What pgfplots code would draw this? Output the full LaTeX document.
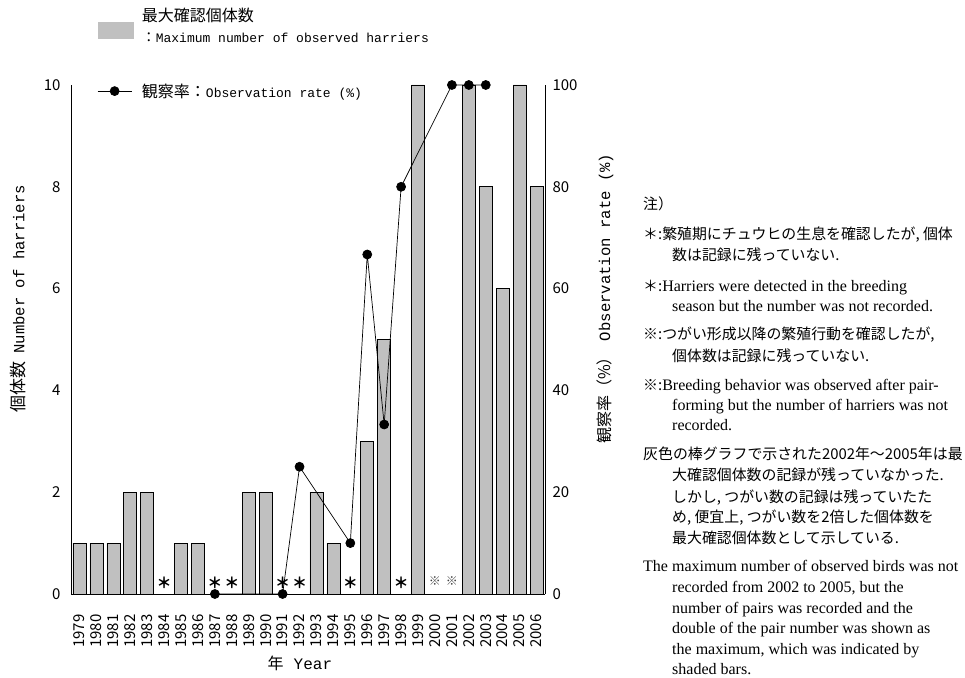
\documentclass[border=0pt]{standalone}
\usepackage{fontspec}
\usepackage{pgfplots}
\pgfplotsset{compat=1.18}
\setmainfont{Liberation Serif}
\newfontfamily\jp{Noto Sans CJK JP}
\newfontfamily\mono{Liberation Mono}
\definecolor{barfill}{RGB}{192,192,192}
\newcommand{\fs}[1]{\fontsize{#1}{#1}\selectfont}
\pgfplotsset{
  mylineleg/.style={legend image code/.code={\draw[##1, mark repeat=2, mark phase=2] plot coordinates {(0pt,0pt) (17pt,0pt) (34pt,0pt)};}},
  mybarleg/.style={legend image code/.code={\path (0pt,11.5pt) (0pt,-11.5pt); \fill[barfill] (0pt,-11.5pt) rectangle (35pt,4.5pt);}},
}

\begin{document}
\begin{tikzpicture}[x=1pt,y=1pt]
\path[use as bounding box] (0,0) rectangle (965,677);

\begin{axis}[
  at={(71pt,83pt)}, anchor=south west,
  scale only axis, width=474pt, height=509pt,
  xmin=1978.5, xmax=2006.5, ymin=0, ymax=10,
  axis x line*=bottom, axis y line*=left,
  axis line style={black, line width=0.7pt},
  xtick={1979,...,2006}, ytick={0,2,...,10},
  major tick length=0pt,
  /pgf/number format/1000 sep={},
  /pgf/number format/assume math mode=true,
  tick label style={font=\jp\fs{15}},
  x tick label style={rotate=90, anchor=east},
  xticklabel shift=17pt,
  yticklabel shift=7pt,
  clip=false,
  xlabel={{\jp\fs{16}年}\hspace{1em}{\mono\fs{16}Year}},
  xlabel style={at={(axis description cs:0.483,-0.136)}, anchor=center},
  ylabel={{\jp\fs{17}個体数}\hspace{0.8em}{\mono\fs{15.6}Number of harriers}},
  ylabel style={at={(axis description cs:-0.112,0.58)}, anchor=center, rotate=0},
  legend style={at={(axis description cs:0.057,1.115)}, anchor=west, draw=none, fill=none,
    cells={anchor=west, align=left}, inner sep=0pt, column sep=6pt},
]
\addplot[ybar, bar width=13pt, fill=barfill, draw=black, line width=0.6pt, mybarleg]
  coordinates {
  (1979,1) (1980,1) (1981,1) (1982,2) (1983,2)
  (1985,1) (1986,1) (1989,2) (1990,2) (1993,2) (1994,1)
  (1996,3) (1997,5) (1999,10) (2002,10) (2003,8) (2004,6) (2005,10) (2006,8)
  };
\addlegendentry{{\jp\fs{16}最大確認個体数}\\[9pt]{\jp\fs{14}：}{\mono\fs{13}Maximum number of observed harriers}}
\addplot[draw=none, mark=none, forget plot,
  nodes near coords={\jp\bfseries\fs{15}＊},
  every node near coord/.append style={anchor=center, inner sep=0pt}]
  coordinates {(1984,0.22) (1987,0.22) (1988,0.22) (1991,0.22) (1992,0.22) (1995,0.22) (1998,0.22)};
\addplot[draw=none, mark=none, forget plot,
  nodes near coords={\jp\fs{12}※},
  every node near coord/.append style={anchor=center, inner sep=0pt, text=black!75}]
  coordinates {(2000,0.25) (2001,0.25)};
\end{axis}

\begin{axis}[
  at={(71pt,83pt)}, anchor=south west,
  scale only axis, width=474pt, height=509pt,
  xmin=1978.5, xmax=2006.5, ymin=0, ymax=100,
  axis x line=none, axis y line*=right,
  axis line style={black, line width=0.7pt},
  ytick={0,20,...,100},
  major tick length=0pt,
  /pgf/number format/assume math mode=true,
  tick label style={font=\jp\fs{15}},
  y tick label style={anchor=west},
  yticklabel shift=4pt,
  clip=false,
  ylabel={{\jp\fs{16}観察率（\%）}\hspace{0.8em}{\mono\fs{15.6}Observation rate (\%)}},
  ylabel style={at={(axis description cs:1.1266,0.58)}, anchor=center, rotate=0},
  legend style={at={(axis description cs:0.055,0.988)}, anchor=west, draw=none, fill=none,
    cells={anchor=west}, inner sep=0pt, column sep=8pt},
]
\addplot[black, line width=0.7pt, mark=*, mark size=4.5pt, mark options={fill=black}, mylineleg]
  coordinates {
  (1987,0) (1991,0) (1992,25) (1995,10) (1996,66.7) (1997,33.3) (1998,80)
  (2001,100) (2002,100) (2003,100)
  };
\addlegendentry{{\jp\fs{16}観察率：}{\mono\fs{13}Observation rate (\%)}}
\end{axis}

% Notes
\begin{scope}[every node/.style={anchor=base west, inner sep=0pt}]
\node[font=\jp\fs{14.9}] at (643,467.5) {注）};
\node[font=\jp\fs{14.9}] at (643,437.5) {＊:繁殖期にチュウヒの生息を確認したが, 個体};
\node[font=\jp\fs{14.9}] at (672,416.5) {数は記録に残っていない.};
\node[font=\fs{16}] at (643,385.5) {{\jp\fs{14.9}＊:}Harriers were detected in the breeding};
\node[font=\fs{16}] at (672,365.5) {season but the number was not recorded.};
\node[font=\jp\fs{14.9}] at (643,337.5) {※:つがい形成以降の繁殖行動を確認したが,};
\node[font=\jp\fs{14.9}] at (672,315.5) {個体数は記録に残っていない.};
\node[font=\fs{16}] at (643,286.5) {{\jp\fs{14.9}※:}Breeding behavior was observed after pair-};
\node[font=\fs{16}] at (672,266.5) {forming but the number of harriers was not};
\node[font=\fs{16}] at (672,246.5) {recorded.};
\node[font=\jp\fs{14.9}] at (643,217.5) {灰色の棒グラフで示された2002年～2005年は最};
\node[font=\jp\fs{14.9}] at (672,196.5) {大確認個体数の記録が残っていなかった.};
\node[font=\jp\fs{14.9}] at (672,174.5) {しかし, つがい数の記録は残っていたた};
\node[font=\jp\fs{14.9}] at (672,154.5) {め, 便宜上, つがい数を2倍した個体数を};
\node[font=\jp\fs{14.9}] at (672,133.5) {最大確認個体数として示している.};
\node[font=\fs{16}] at (643,105.5) {The maximum number of observed birds was not};
\node[font=\fs{16}] at (672,84.5) {recorded from 2002 to 2005, but the};
\node[font=\fs{16}] at (672,63.5) {number of pairs was recorded and the};
\node[font=\fs{16}] at (672,43.5) {double of the pair number was shown as};
\node[font=\fs{16}] at (672,22.5) {the maximum, which was indicated by};
\node[font=\fs{16}] at (672,3) {shaded bars.};
\end{scope}
\end{tikzpicture}
\end{document}
